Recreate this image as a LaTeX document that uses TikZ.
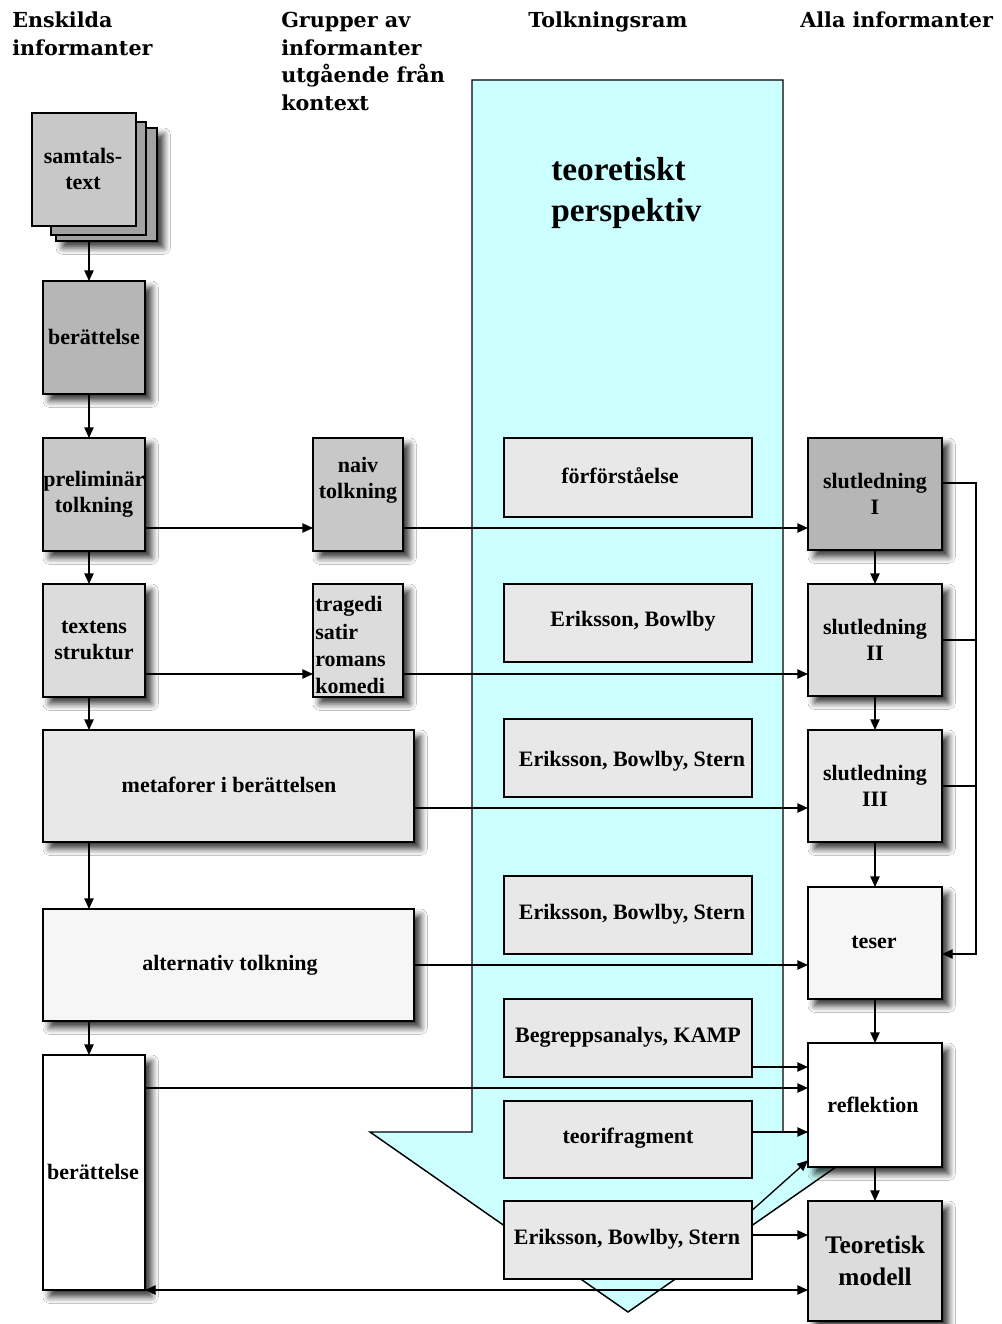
\documentclass[tikz,border=0pt]{standalone}
\usepackage{fontspec}
\newfontfamily\boxfont{Liberation Serif}
\newfontfamily\headfont{DejaVu Serif}
\usetikzlibrary{arrows.meta,fit,shadows.blur}

\definecolor{framecyan}{RGB}{204,255,255}
\definecolor{gA}{RGB}{162,162,162}
\definecolor{gB}{RGB}{182,182,182}
\definecolor{gC}{RGB}{200,200,200}
\definecolor{gD}{RGB}{220,220,220}
\definecolor{gE}{RGB}{232,232,232}
\definecolor{gF}{RGB}{246,246,246}

\begin{document}
\begin{tikzpicture}[x=0.75pt,y=-0.75pt,
  font=\boxfont\bfseries\fontsize{16.5}{19.5}\selectfont,
  frame/.style={draw=black, line width=1.2pt, inner sep=0pt, outer sep=0pt},
  shadowed/.style={frame, blur shadow={shadow xshift=5pt, shadow yshift=-5pt,
      shadow blur radius=5pt, shadow opacity=80}},
  lbl/.style={inner sep=0pt, align=center},
  head/.style={font=\headfont\bfseries\fontsize{15.5}{20.7}\selectfont,
      align=left, anchor=north west, inner sep=0pt},
  conn/.style={line width=1pt, -{Triangle[length=8pt,width=7pt]}},
  both/.style={line width=1pt, {Triangle[length=8pt,width=7pt]}-{Triangle[length=8pt,width=7pt]}},
  wire/.style={line width=1pt},
]
\fill[white] (0,0) rectangle (1001,1324);
\useasboundingbox (0,0) rectangle (1001,1324);

% column headings
\node[head] (h1) at (12,12) {Enskilda\\informanter};
\node[head] (h2) at (281,12) {Grupper av\\informanter\\utgående från\\kontext};
\node[head] (h3) at (528,12) {Tolkningsram};
\node[head] (h4) at (800,12) {Alla informanter};

% interpretation frame: the large downward arrow
\draw[line width=1.1pt, fill=framecyan] (472,80) -- (783,80) -- (783,1132)
  -- (886,1132) -- (628,1312) -- (370,1132) -- (472,1132) -- cycle;
\node[font=\boxfont\bfseries\fontsize{25}{31}\selectfont, align=left,
  anchor=west, inner sep=0pt] (persp) at (551,193) {teoretiskt\\perspektiv};

% left column: single informants
\node[shadowed, fill=gA, fit={(56,128) (157,241)}] (sheetc) {};
\node[frame, fill=gA, fit={(51,122) (146,235)}] (sheetb) {};
\node[frame, fill=gC, fit={(32,113) (136,226)}] (samtal) {};
\node[lbl] (samtalT) at (83,169) {samtals-\\text};

\node[shadowed, fill=gB, fit={(43,281) (145,394)}] (ber1) {};
\node[lbl] (ber1T) at (94,337) {berättelse};

\node[shadowed, fill=gC, fit={(43,438) (145,551)}] (prel) {};
\node[lbl] (prelT) at (94,494) {preliminär\\tolkning};

\node[shadowed, fill=gD, fit={(43,584) (145,697)}] (textens) {};
\node[lbl] (textensT) at (94,640) {textens\\struktur};

\node[shadowed, fill=gE, fit={(43,730) (414,842)}] (meta) {};
\node[lbl] (metaT) at (229,785) {metaforer i berättelsen};

\node[shadowed, fill=gF, fit={(43,909) (414,1021)}] (alt) {};
\node[lbl] (altT) at (230,965) {alternativ tolkning};

\node[shadowed, fill=white, fit={(43,1055) (145,1290)}] (ber2) {};
\node[lbl] (ber2T) at (93,1172) {berättelse};

% middle column: groups of informants
\node[shadowed, fill=gC, fit={(313,438) (403,551)}] (naiv) {};
\node[lbl] (naivT) at (358,480) {naiv\\tolkning};

\node[shadowed, fill=gD, fit={(313,584) (403,697)}] (trag) {};
\node[lbl, align=left, anchor=west, font=\boxfont\bfseries\fontsize{16.5}{20.3}\selectfont]
  (tragT) at (315,645) {tragedi\\satir\\romans\\komedi};

% frame boxes
\node[frame, fill=gE, fit={(504,438) (752,517)}] (forf) {};
\node[lbl] (forfT) at (620,476) {förförståelse};
\node[frame, fill=gE, fit={(504,584) (752,662)}] (eb) {};
\node[lbl] (ebT) at (633,621) {Eriksson, Bowlby};
\node[frame, fill=gE, fit={(504,719) (752,797)}] (ebs1) {};
\node[lbl] (ebs1T) at (632,761) {Eriksson, Bowlby, Stern};
\node[frame, fill=gE, fit={(504,876) (752,954)}] (ebs2) {};
\node[lbl] (ebs2T) at (632,914) {Eriksson, Bowlby, Stern};
\node[frame, fill=gE, fit={(504,999) (752,1077)}] (begr) {};
\node[lbl] (begrT) at (628,1037) {Begreppsanalys, KAMP};
\node[frame, fill=gE, fit={(504,1101) (752,1178)}] (teori) {};
\node[lbl] (teoriT) at (628,1138) {teorifragment};
\node[frame, fill=gE, fit={(504,1201) (752,1279)}] (eri3) {};
\node[lbl] (eri3T) at (627,1239) {Eriksson, Bowlby, Stern};

% right column: all informants
\node[shadowed, fill=gB, fit={(808,438) (942,550)}] (sl1) {};
\node[lbl] (sl1T) at (875,494) {slutledning\\I};
\node[shadowed, fill=gD, fit={(808,584) (942,696)}] (sl2) {};
\node[lbl] (sl2T) at (875,640) {slutledning\\II};
\node[shadowed, fill=gE, fit={(808,730) (942,842)}] (sl3) {};
\node[lbl] (sl3T) at (875,786) {slutledning\\III};
\node[shadowed, fill=gF, fit={(808,887) (942,999)}] (teser) {};
\node[lbl] (teserT) at (874,942) {teser};
\node[shadowed, fill=white, fit={(808,1043) (942,1167)}] (refl) {};
\node[lbl] (reflT) at (873,1105) {reflektion};
\node[shadowed, fill=gD, fit={(808,1201) (942,1321)}] (teo) {};
\node[lbl, font=\boxfont\bfseries\fontsize{19}{24}\selectfont] (teoT) at (875,1261) {Teoretisk\\modell};

% routing columns and rows
\coordinate (lx) at (89,0);
\coordinate (rx) at (875,0);
\coordinate (bus) at (976,0);
\coordinate (r1) at (0,528);
\coordinate (r2) at (0,674);
\coordinate (r3) at (0,808);
\coordinate (r4) at (0,965);
\coordinate (r5) at (0,1088);
\coordinate (rb) at (0,1067);
\coordinate (rt) at (0,1132);
\coordinate (re) at (0,1235);
\coordinate (rl) at (0,1290);
\coordinate (s1) at (0,483);
\coordinate (s2) at (0,640);
\coordinate (s3) at (0,786);
\coordinate (s4) at (0,954);

% left column flow
\draw[conn] (sheetc.south -| lx) -- (ber1.north -| lx);
\draw[conn] (ber1.south -| lx) -- (prel.north -| lx);
\draw[conn] (prel.south -| lx) -- (textens.north -| lx);
\draw[conn] (textens.south -| lx) -- (meta.north -| lx);
\draw[conn] (meta.south -| lx) -- (alt.north -| lx);
\draw[conn] (alt.south -| lx) -- (ber2.north -| lx);

% horizontal flow
\draw[conn] (prel.east |- r1) -- (naiv.west |- r1);
\draw[conn] (naiv.east |- r1) -- (sl1.west |- r1);
\draw[conn] (textens.east |- r2) -- (trag.west |- r2);
\draw[conn] (trag.east |- r2) -- (sl2.west |- r2);
\draw[conn] (meta.east |- r3) -- (sl3.west |- r3);
\draw[conn] (alt.east |- r4) -- (teser.west |- r4);
\draw[conn] (ber2.east |- r5) -- (refl.west |- r5);
\draw[conn] (begr.east |- rb) -- (refl.west |- rb);
\draw[conn] (teori.east |- rt) -- (refl.west |- rt);
\draw[conn] ([yshift=-7pt]eri3.north east) -- ([yshift=5pt]refl.south west);
\draw[conn] (eri3.east |- re) -- (teo.west |- re);
\draw[both] (ber2.east |- rl) -- (teo.west |- rl);

% right column flow
\draw[conn] (sl1.south -| rx) -- (sl2.north -| rx);
\draw[conn] (sl2.south -| rx) -- (sl3.north -| rx);
\draw[conn] (sl3.south -| rx) -- (teser.north -| rx);
\draw[conn] (teser.south -| rx) -- (refl.north -| rx);
\draw[conn] (refl.south -| rx) -- (teo.north -| rx);

% collecting bus into teser
\draw[conn] (sl1.east |- s1) -- (bus |- s1) -- (bus |- s4) -- (teser.east |- s4);
\draw[wire] (sl2.east |- s2) -- (bus |- s2);
\draw[wire] (sl3.east |- s3) -- (bus |- s3);
\end{tikzpicture}
\end{document}
